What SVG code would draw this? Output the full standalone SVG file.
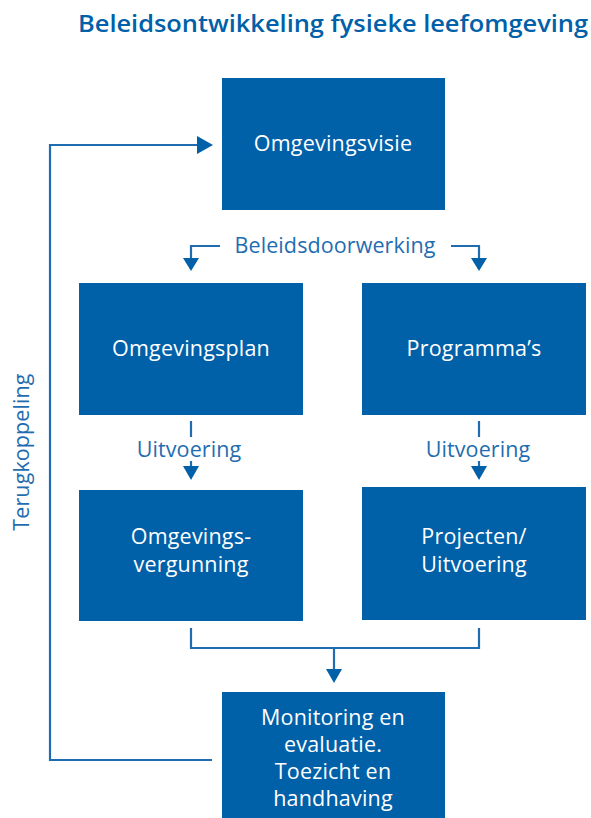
<svg xmlns="http://www.w3.org/2000/svg" width="591" height="818" viewBox="0 0 591 818">
<style>
.box{fill:#0060a8}
.bt{fill:#ffffff;font-family:"Open Sans","Liberation Sans",sans-serif;font-size:21.5px;letter-spacing:0.2px;text-anchor:middle}
.lbl{fill:#1f6db0;font-family:"Open Sans","Liberation Sans",sans-serif;font-size:21.5px;letter-spacing:0.1px;text-anchor:middle}
.ln{fill:none;stroke:#1f6db0;stroke-width:2.2}
.title{fill:#0060a8;font-family:"Open Sans","Liberation Sans",sans-serif;font-size:24px;font-weight:600}
</style>
<text class="title" x="78" y="32" textLength="510" lengthAdjust="spacingAndGlyphs">Beleidsontwikkeling fysieke leefomgeving</text>
<g id="connectors">
<path class="ln" d="M212,760 H50 V145 H197"/>
<path d="M197,136 L213,145 L197,154 z" fill="#0060a8"/>
<path class="ln" d="M220,246 H191 V260"/>
<path d="M183,258 L191,271 L199,258 z" fill="#0060a8"/>
<path class="ln" d="M451,246 H479 V260"/>
<path d="M471,258 L479,271 L487,258 z" fill="#0060a8"/>
<path class="ln" d="M191,421 V437"/>
<path class="ln" d="M191,461 V468"/>
<path d="M183,466 L191,480 L199,466 z" fill="#0060a8"/>
<path class="ln" d="M479,421 V437"/>
<path class="ln" d="M479,461 V468"/>
<path d="M471,466 L479,480 L487,466 z" fill="#0060a8"/>
<path class="ln" d="M191,628 V648 H479 V628"/>
<path class="ln" d="M334,648 V671"/>
<path d="M326,669 L334,683 L342,669 z" fill="#0060a8"/>
<text class="lbl" x="335" y="253">Beleidsdoorwerking</text>
<text class="lbl" x="189" y="457">Uitvoering</text>
<text class="lbl" x="478" y="457">Uitvoering</text>
<text class="lbl" transform="translate(29,452) rotate(-90)">Terugkoppeling</text>
</g>
<g id="omgevingsvisie"><rect class="box" x="222" y="78" width="223" height="132"/><text class="bt" x="333" y="151">Omgevingsvisie</text></g>
<g id="omgevingsplan"><rect class="box" x="79" y="283" width="224" height="132"/><text class="bt" x="191" y="356">Omgevingsplan</text></g>
<g id="programmas"><rect class="box" x="362" y="283" width="224" height="132"/><text class="bt" x="474" y="356">Programma’s</text></g>
<g id="omgevingsvergunning"><rect class="box" x="79" y="490" width="224" height="131"/><text class="bt" x="191" y="544">Omgevings-</text><text class="bt" x="191" y="572">vergunning</text></g>
<g id="projecten"><rect class="box" x="362" y="487" width="224" height="133"/><text class="bt" x="474" y="544">Projecten/</text><text class="bt" x="474" y="572">Uitvoering</text></g>
<g id="monitoring"><rect class="box" x="222" y="692" width="223" height="126"/><text class="bt" x="333" y="725">Monitoring en</text><text class="bt" x="333" y="752">evaluatie.</text><text class="bt" x="333" y="779">Toezicht en</text><text class="bt" x="333" y="806">handhaving</text></g>
</svg>
